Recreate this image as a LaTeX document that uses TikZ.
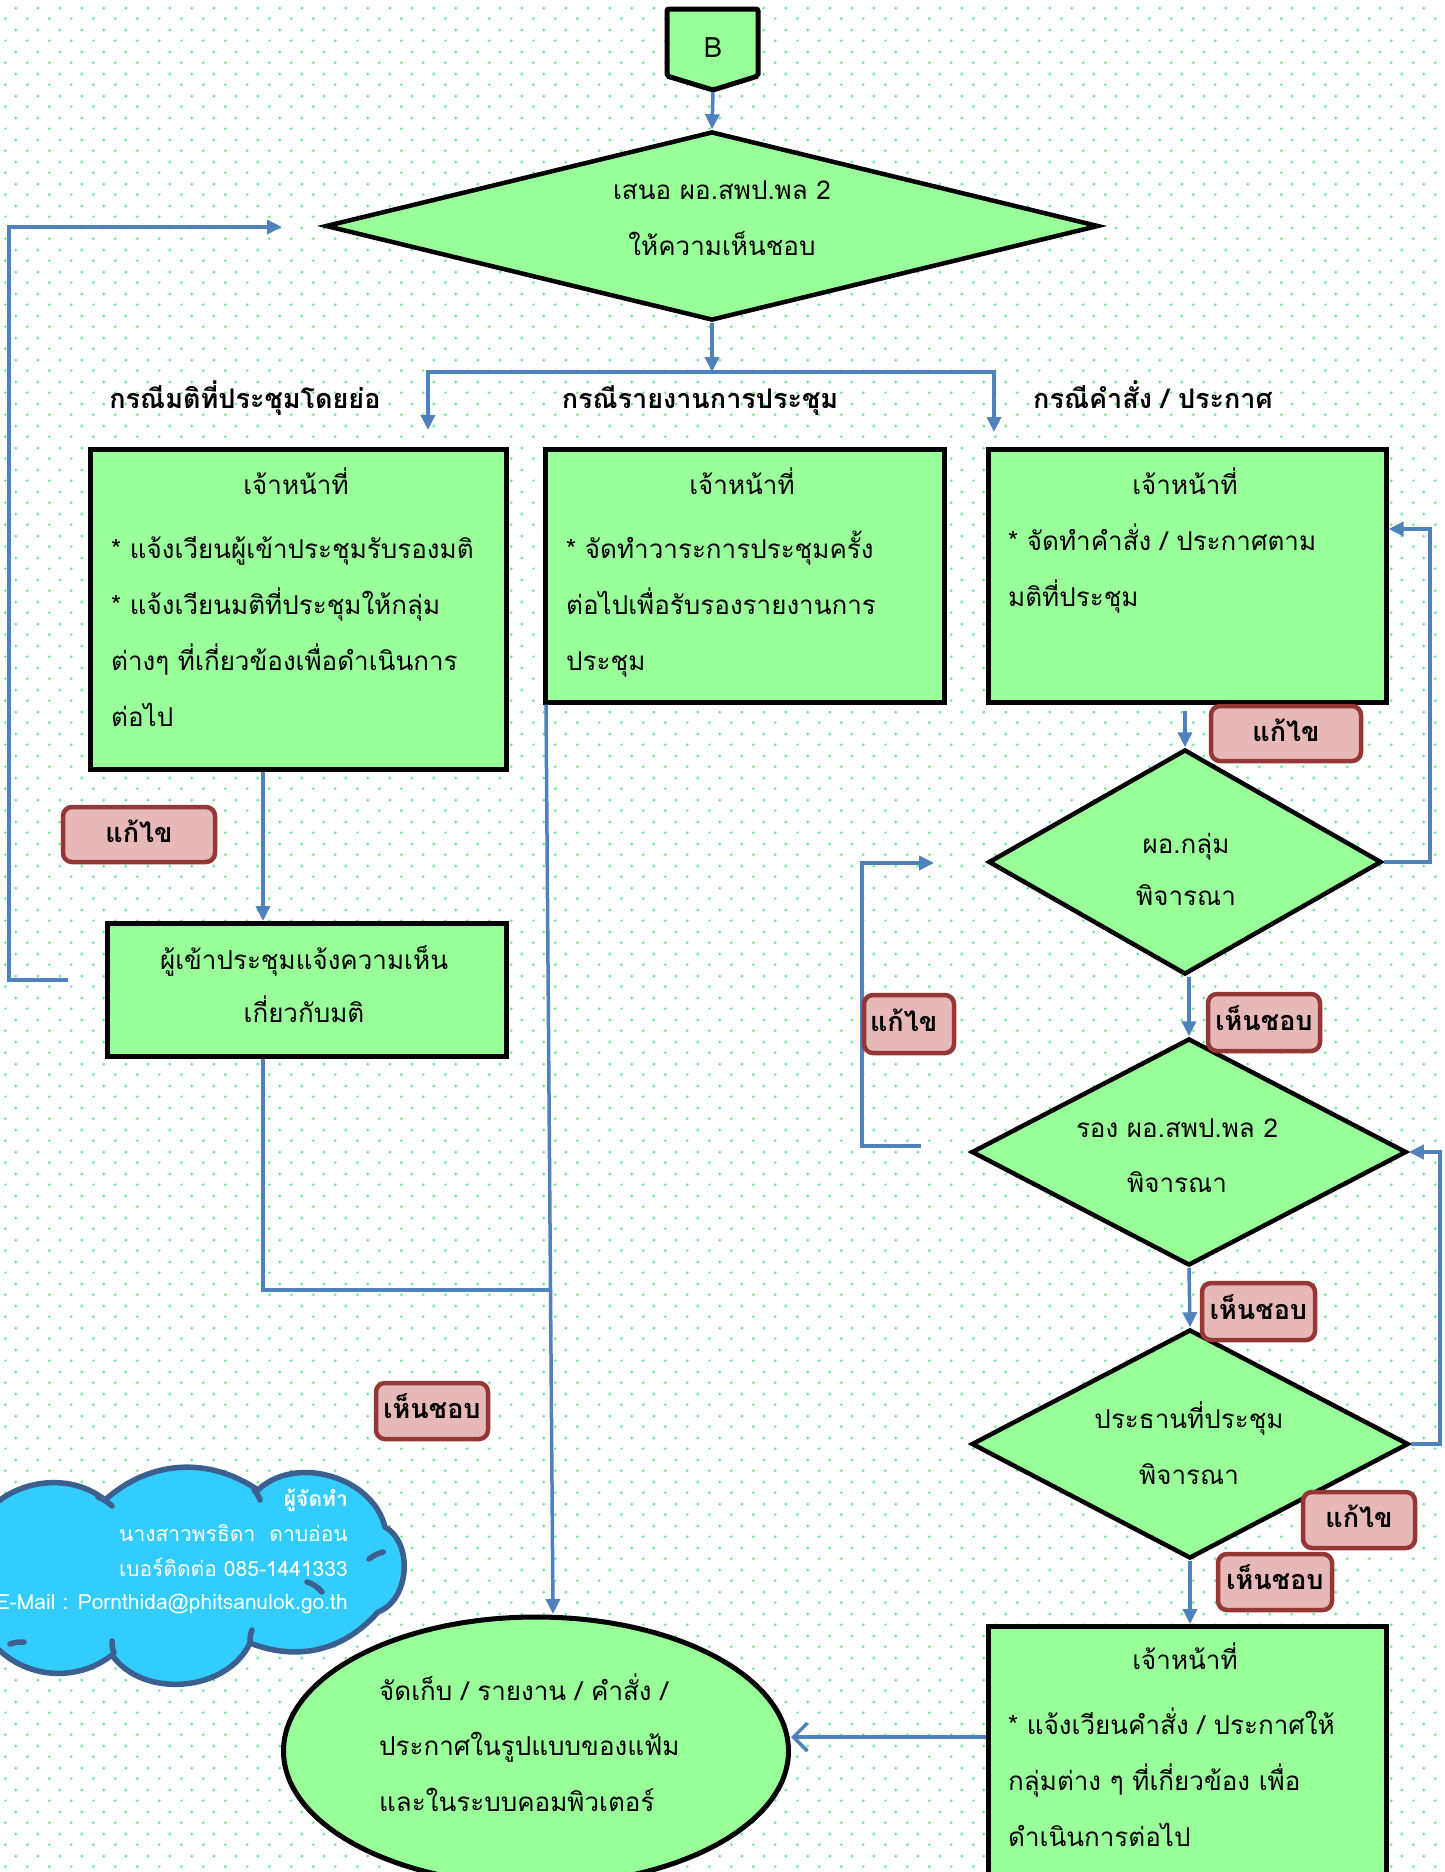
\documentclass[tikz,border=0pt]{standalone}
\usepackage{fontspec}
\setmainfont[Script=Thai]{Loma}
\usetikzlibrary{shapes.geometric,arrows.meta,patterns,calc}
\pgfdeclarepatternformonly{stagdots}{\pgfqpoint{0pt}{0pt}}{\pgfqpoint{21.5pt}{21.6pt}}{\pgfqpoint{21.5pt}{21.6pt}}{%
  \pgfpathcircle{\pgfqpoint{5.4pt}{5.4pt}}{1.5pt}%
  \pgfpathcircle{\pgfqpoint{16.15pt}{16.2pt}}{1.5pt}%
  \pgfusepath{fill}}
\definecolor{boxgreen}{HTML}{99FF99}
\definecolor{connblue}{HTML}{4F81BD}
\definecolor{labfill}{HTML}{E6B9B8}
\definecolor{labdraw}{HTML}{953735}
\definecolor{cloudfill}{HTML}{33CCFF}
\definecolor{clouddraw}{HTML}{3B6090}
\definecolor{dotgreen}{RGB}{100,238,140}
\newcommand\thtxt{\fontsize{26pt}{56pt}\selectfont}
\newcommand\thtxtb{\fontsize{26pt}{52pt}\selectfont}
\newcommand\thtxtc{\fontsize{26pt}{53pt}\selectfont}
\newcommand\thhead{\fontsize{27pt}{56pt}\selectfont}
\newcommand\cltxt{\fontsize{21pt}{35pt}\selectfont}
\tikzset{
  box/.style={rectangle, draw=black, line width=4.5pt, fill=boxgreen, inner sep=0pt, anchor=north west},
  dia/.style={diamond, draw=black, line width=4.5pt, fill=boxgreen, inner sep=0pt},
  txt/.style={inner sep=0pt, font=\thtxt, anchor=base},
  bodytxt/.style={inner sep=0pt, font=\thtxt, anchor=base west, align=left},
  head/.style={inner sep=0pt, font=\thhead\bfseries, anchor=base},
  lab/.style={rectangle, rounded corners=9pt, draw=labdraw, line width=4.5pt, fill=labfill, inner sep=0pt, font=\thhead\bfseries, text height=15pt, text depth=0pt},
  arr/.style={draw=connblue, line width=3.5pt, -{Triangle[length=15pt,width=14pt]}},
  ln/.style={draw=connblue, line width=3.5pt},
  cltext/.style={inner sep=0pt, font=\cltxt, text=white, anchor=base east},
  cloudline/.style={draw=clouddraw, line width=5.5pt, line cap=round}
}
\begin{document}
\begin{tikzpicture}[x=1pt,y=-1pt]
\useasboundingbox (0,0) rectangle (1444,1872);
\fill[white] (0,0) rectangle (1444,1872);
\fill[pattern=stagdots, pattern color=dotgreen] (0,0) rectangle (1444,1872);

% ---------- B connector ----------
\draw[line width=5pt, fill=boxgreen, rounded corners=2pt] (667,9) -- (758,9) -- (758,76) -- (713,90) -- (667,76) -- cycle;
\node[inner sep=0pt, font=\fontsize{28pt}{30pt}\selectfont, anchor=base] (B) at (713,57) {B};
\coordinate (Btip) at (713,92);

% ---------- top decision ----------
\node[dia, minimum width=773, minimum height=189] (d1) at (712,226) {};
\node[txt, text width=400, align=center] (d1t) at (722,199) {เสนอ ผอ.สพป.พล 2\\ให้ความเห็นชอบ};

% ---------- headings ----------
\node[head] (h1) at (245,408) {กรณีมติที่ประชุมโดยย่อ};
\node[head] (h2) at (700,408) {กรณีรายงานการประชุม};
\node[head] (h3) at (1153,408) {กรณีคำสั่ง / ประกาศ};

% ---------- left column ----------
\node[box, minimum width=416, minimum height=320] (bL1) at (88,447) {};
\node[txt] (bL1h) at (296,494) {เจ้าหน้าที่};
\node[bodytxt, text width=400] (bL1b) at (111,558) {* แจ้งเวียนผู้เข้าประชุมรับรองมติ\\{}* แจ้งเวียนมติที่ประชุมให้กลุ่ม\\ต่างๆ ที่เกี่ยวข้องเพื่อดำเนินการ\\ต่อไป};

\node[box, minimum width=399, minimum height=133] (bL2) at (105,921) {};
\node[txt, font=\thtxtc, text width=390, align=center] (bL2t) at (304,969) {ผู้เข้าประชุมแจ้งความเห็น\\เกี่ยวกับมติ};

% ---------- middle column ----------
\node[box, minimum width=399, minimum height=253] (bM1) at (543,447) {};
\node[txt] (bM1h) at (742,494) {เจ้าหน้าที่};
\node[bodytxt, text width=380] (bM1b) at (566,558) {* จัดทำวาระการประชุมครั้ง\\ต่อไปเพื่อรับรองรายงานการ\\ประชุม};

% ---------- right column ----------
\node[box, minimum width=398, minimum height=253] (bR1) at (986,447) {};
\node[txt] (bR1h) at (1185,494) {เจ้าหน้าที่};
\node[bodytxt, text width=380] (bR1b) at (1008,550) {* จัดทำคำสั่ง / ประกาศตาม\\มติที่ประชุม};

\node[dia, minimum width=393, minimum height=225] (dR1) at (1185,862) {};
\node[txt, font=\thtxtb, text width=300, align=center] (dR1t) at (1186,853) {ผอ.กลุ่ม\\พิจารณา};

\node[dia, minimum width=435, minimum height=227] (dR2) at (1189,1152) {};
\node[txt, font=\fontsize{26pt}{55pt}\selectfont, text width=300, align=center] (dR2t) at (1177,1137) {รอง ผอ.สพป.พล 2\\พิจารณา};

\node[dia, minimum width=437, minimum height=229] (dR3) at (1190,1444) {};
\node[txt, text width=300, align=center] (dR3t) at (1189,1428) {ประธานที่ประชุม\\พิจารณา};

\node[box, minimum width=398, minimum height=300] (bR4) at (986,1624) {};
\node[txt] (bR4h) at (1185,1669) {เจ้าหน้าที่};
\node[bodytxt, text width=380] (bR4b) at (1008,1734) {* แจ้งเวียนคำสั่ง / ประกาศให้\\กลุ่มต่าง ๆ ที่เกี่ยวข้อง เพื่อ\\ดำเนินการต่อไป};

% ---------- final ellipse ----------
\node[ellipse, draw=black, line width=5pt, fill=boxgreen, inner sep=0pt, minimum width=505, minimum height=268] (ell) at (536,1751) {};
\node[bodytxt, font=\fontsize{26pt}{55.5pt}\selectfont, text width=400] (ellt) at (379,1700) {จัดเก็บ / รายงาน / คำสั่ง /\\ประกาศในรูปแบบของแฟ้ม\\และในระบบคอมพิวเตอร์};

% ---------- cloud ----------
\draw[draw=clouddraw, line width=5.5pt, fill=cloudfill, line join=round]
  (-25,1530) to[bend left=52] (105,1500) to[bend left=38] (258,1490)
  to[bend left=60] (385,1527) to[bend left=65] (378,1612)
  to[bend left=35] (250,1643) to[bend left=60] (112,1655)
  to[bend left=45] (-10,1640) to[bend left=60] (-25,1530) -- cycle;
\draw[cloudline] (98,1497) to[bend left=10] (112,1506);
\draw[cloudline] (254,1490) to[bend left=10] (260,1500);
\draw[cloudline] (383,1552) to[bend right=10] (369,1559);
\draw[cloudline] (307,1582) to[bend left=15] (322,1592);
\draw[cloudline] (250,1641) to[bend left=10] (252,1630);
\draw[cloudline] (114,1653) to[bend left=10] (112,1641);
\draw[cloudline] (24,1642) to[bend right=10] (10,1644);
\node[cltext, font=\cltxt\bfseries] (cl1) at (348,1506) {ผู้จัดทำ};
\node[cltext] (cl2) at (348,1541) {นางสาวพรธิดา\ \ ดาบอ่อน};
\node[cltext] (cl3) at (348,1576) {เบอร์ติดต่อ 085-1441333};
\node[cltext] (cl4) at (348,1609) {E-Mail : Pornthida@phitsanulok.go.th};

% ---------- helper coordinates ----------
\coordinate (xL) at (263,0);
\coordinate (aL) at (428,430);
\coordinate (aR) at (994,432);
\coordinate (brY) at (0,372);
\coordinate (lpS) at (68,980);
\coordinate (lpX) at (9,600);
\coordinate (lpE) at (282,227);
\coordinate (jn) at (549,1290);
\coordinate (ellIn) at (553,1614);
\coordinate (yR1) at (0,711);
\coordinate (yl1) at (0,529);
\coordinate (ll1) at (921,1146);
\coordinate (llx) at (862,1000);
\coordinate (ll2) at (934,863);
\coordinate (yE) at (0,1737);

% ---------- connectors ----------
\draw[arr] (Btip) -- (d1.north);
\draw[arr] (d1.south) -- (d1.south |- brY);
\draw[draw=connblue, line width=3.5pt, {Triangle[length=15pt,width=14pt]}-{Triangle[length=15pt,width=14pt]}] (aL) -- (aL |- brY) -- (aR |- brY) -- (aR);
\draw[arr] (bL1.south -| xL) -- (bL2.north -| xL);
\draw[arr] (lpS) -| (lpX) |- (lpE);
\draw[ln] (bL2.south -| xL) |- (jn);
\draw[arr] ($(bM1.south west)+(3,0)$) -- (ellIn);
\draw[arr] (dR1.north |- yR1) -- (dR1.north);
\draw[arr] (dR1.east) -- ++(46,0) |- (bR1.east |- yl1);
\draw[arr] (dR2.north |- dR1.south) -- (dR2.north);
\draw[arr] (dR2.south) -- (dR3.north);
\draw[arr] (dR3.east) -- ++(29,0) |- (dR2.east);
\draw[arr] (ll1) -| (llx) |- (ll2);
\draw[arr] (dR3.south) -- (dR3.south |- bR4.north);
\draw[draw=connblue, line width=3.5pt, -{Straight Barb[length=14pt,width=28pt]}] (bR4.west |- yE) -- (ell.east |- yE);

% ---------- labels ----------
\node[lab, minimum width=152, minimum height=55] (lb1) at (139,834.5) {แก้ไข};
\node[lab, minimum width=112, minimum height=56] (lb2) at (432,1411) {เห็นชอบ};
\node[lab, minimum width=150, minimum height=55] (lb3) at (1286,733.5) {แก้ไข};
\node[lab, minimum width=112, minimum height=57] (lb4) at (1264,1022.5) {เห็นชอบ};
\node[lab, minimum width=90, minimum height=58, text width=78, align=left] (lb5) at (909,1024) {แก้ไข};
\node[lab, minimum width=113, minimum height=57] (lb6) at (1258.5,1311.5) {เห็นชอบ};
\node[lab, minimum width=112, minimum height=56] (lb7) at (1359,1520) {แก้ไข};
\node[lab, minimum width=114, minimum height=56] (lb8) at (1275,1582) {เห็นชอบ};
\end{tikzpicture}
\end{document}
